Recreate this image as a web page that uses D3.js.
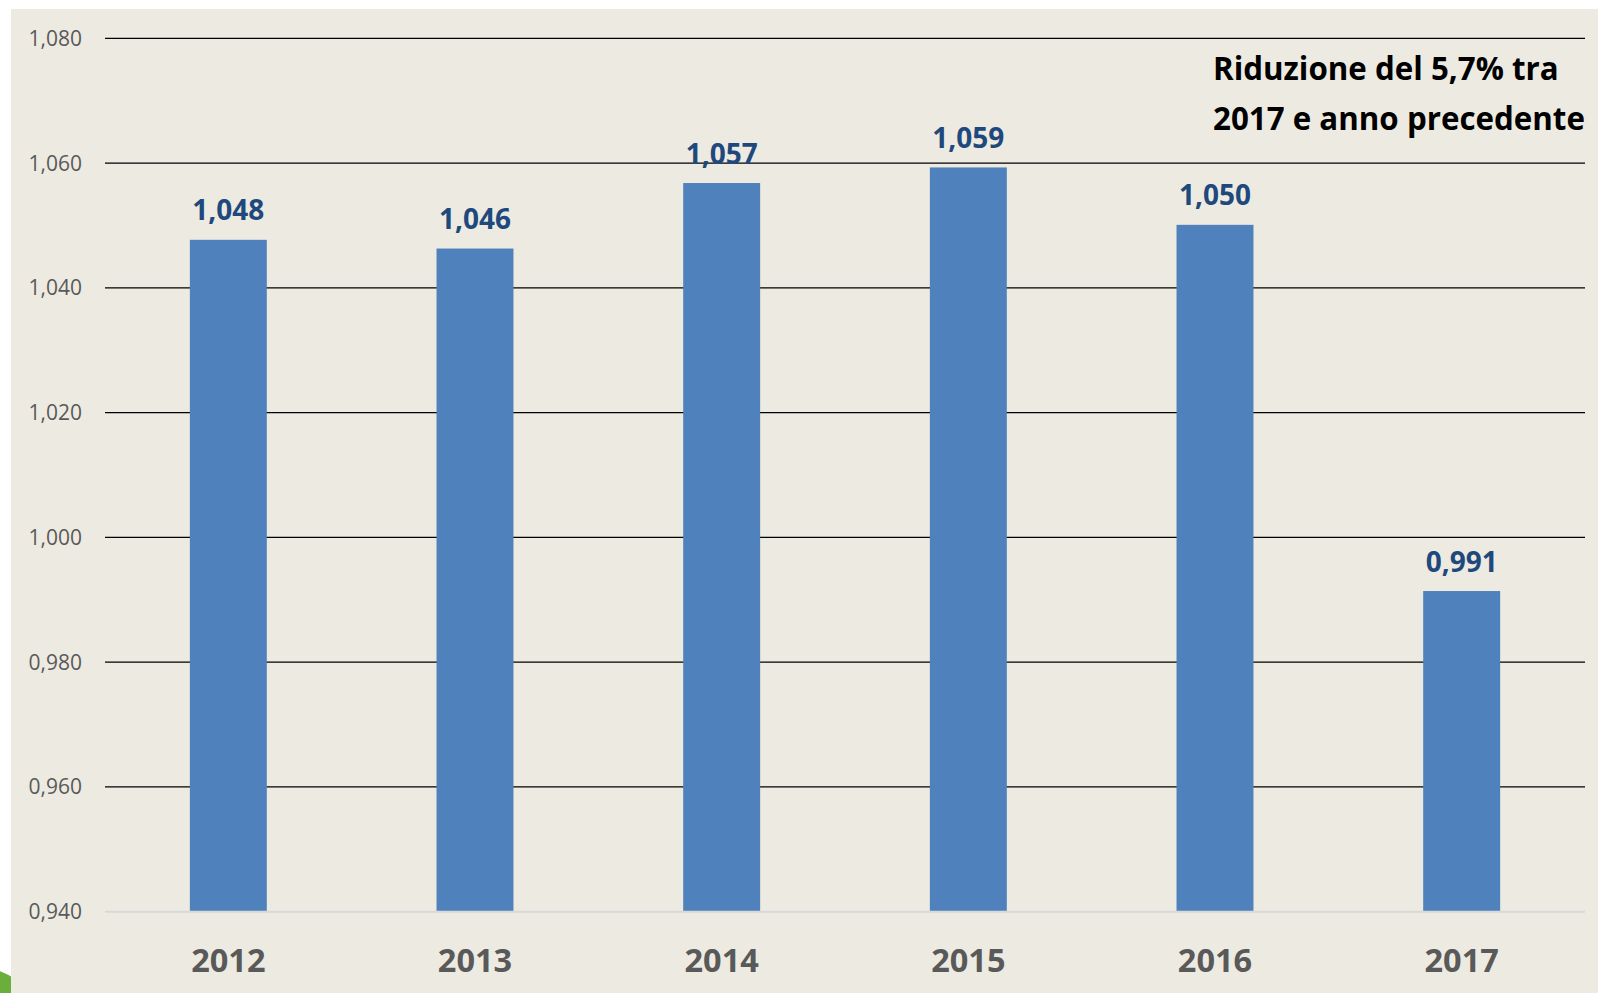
<!DOCTYPE html>
<html>
<head>
<meta charset="utf-8">
<script src="https://cdn.jsdelivr.net/npm/d3@7"></script>
<style>
  html, body { margin: 0; padding: 0; background: #ffffff; overflow: hidden; }
  svg { display: block; }
</style>
</head>
<body>
<script>
const categories = ["2012", "2013", "2014", "2015", "2016", "2017"];
const values = [1.0477, 1.0463, 1.0568, 1.0593, 1.0501, 0.9914];
const labels = ["1,048", "1,046", "1,057", "1,059", "1,050", "0,991"];
const yTicks = [0.94, 0.96, 0.98, 1.00, 1.02, 1.04, 1.06, 1.08];
const annotation = ["Riduzione del 5,7% tra", "2017 e anno precedente"];

const W = 1598, H = 993;
const svg = d3.select("body").append("svg").attr("width", W).attr("height", H);

// green decoration at bottom-left (partially hidden by panel)
svg.append("circle").attr("cx", -20).attr("cy", 1030).attr("r", 62).attr("fill", "#6aae3c");

// panel background
svg.append("rect").attr("x", 11).attr("y", 9).attr("width", W - 11).attr("height", H - 9).attr("fill", "#edebe1");

const x = d3.scaleBand().domain(categories).range([105, 1585]).paddingInner(0.688).paddingOuter(0.344);
const y = d3.scaleLinear().domain([0.94, 1.08]).range([911.7, 38.3]);

const font = "'Open Sans', sans-serif";

// gridlines
svg.append("g").selectAll("line").data(yTicks.filter(d => d > 0.94)).join("line")
  .attr("x1", 105).attr("x2", 1585)
  .attr("y1", d => y(d)).attr("y2", d => y(d))
  .attr("stroke", "#000").attr("stroke-width", 1.3);

// y axis labels
const fmtY = d => d3.format(".3f")(d).replace(".", ",");
svg.append("g").selectAll("text").data(yTicks).join("text")
  .attr("x", 82).attr("y", d => y(d)).attr("dy", "0.36em")
  .attr("text-anchor", "end")
  .attr("font-family", font).attr("font-size", 21).attr("fill", "#595959")
  .text(fmtY);

// bars
svg.append("g").selectAll("rect").data(values).join("rect")
  .attr("x", (d, i) => x(categories[i]))
  .attr("width", x.bandwidth())
  .attr("y", d => y(d))
  .attr("height", d => y(0.94) - y(d))
  .attr("fill", "#4f81bd");

// baseline
svg.append("line").attr("x1", 105).attr("x2", 1585).attr("y1", y(0.94)).attr("y2", y(0.94))
  .attr("stroke", "#d9d9d9").attr("stroke-width", 2);

// value labels
svg.append("g").selectAll("text").data(values).join("text")
  .attr("x", (d, i) => x(categories[i]) + x.bandwidth() / 2)
  .attr("y", d => y(d) - 19.5)
  .attr("text-anchor", "middle")
  .attr("font-family", font).attr("font-weight", "bold").attr("font-size", 28).attr("fill", "#1f497d")
  .text((d, i) => labels[i]);

// x axis labels
svg.append("g").selectAll("text").data(categories).join("text")
  .attr("x", d => x(d) + x.bandwidth() / 2)
  .attr("y", 972)
  .attr("text-anchor", "middle")
  .attr("font-family", font).attr("font-weight", "bold").attr("font-size", 32.5).attr("fill", "#595959")
  .text(d => d);

// annotation
svg.append("g").selectAll("text").data(annotation).join("text")
  .attr("x", 1213).attr("y", (d, i) => 79.5 + i * 50.5)
  .attr("font-family", font).attr("font-weight", "bold").attr("font-size", 31.3).attr("fill", "#000")
  .text(d => d);
</script>
</body>
</html>
